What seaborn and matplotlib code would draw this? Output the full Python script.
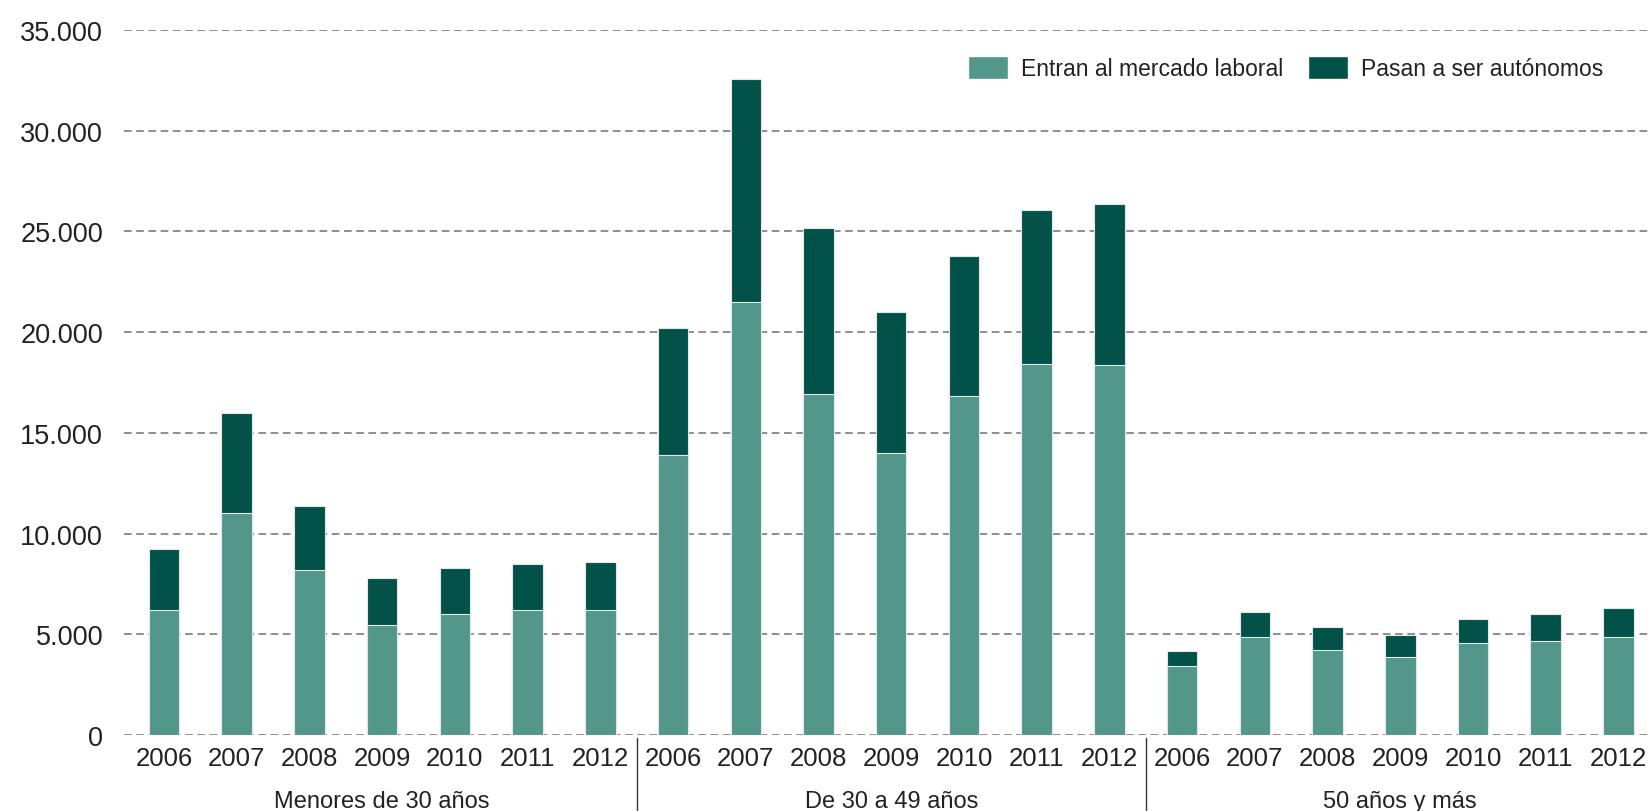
import pandas as pd
import matplotlib
matplotlib.use("Agg")
import matplotlib.pyplot as plt
import matplotlib.transforms as mtransforms
from matplotlib.patches import Patch
from matplotlib.ticker import FuncFormatter
import seaborn as sns

# datos
grupos = ["Menores de 30 años", "De 30 a 49 años", "50 años y más"]
anios = ["2006", "2007", "2008", "2009", "2010", "2011", "2012"]

entran_menores = [6185, 11046, 8204, 5476, 6006, 6185, 6185]
pasan_menores = [3060, 4960, 3174, 2316, 2282, 2282, 2381]

entran_30_49 = [13909, 21483, 16918, 14008, 16835, 18437, 18388]
pasan_30_49 = [6284, 11075, 8235, 7010, 6928, 7624, 7955]

entran_50 = [3442, 4846, 4236, 3889, 4583, 4682, 4880]
pasan_50 = [744, 1275, 1126, 1056, 1190, 1339, 1404]

serie_entran = "Entran al mercado laboral"
serie_pasan = "Pasan a ser autónomos"

color_claro = "#52978a"
color_oscuro = "#02524a"

filas = []
for g, ent, pas in zip(grupos, [entran_menores, entran_30_49, entran_50],
                       [pasan_menores, pasan_30_49, pasan_50]):
    for a, e, p in zip(anios, ent, pas):
        filas.append({"grupo": g, "anio": a, "clave": f"{g} {a}",
                      "entran": e, "pasan": p, "total": e + p})
df = pd.DataFrame(filas)

sns.set_theme(style="white")
plt.rcParams["font.family"] = ["Liberation Sans", "DejaVu Sans"]
narrow = ["Liberation Sans Narrow", "Liberation Sans", "DejaVu Sans"]

fig = plt.figure(figsize=(16.49, 8.12), dpi=100)
ax = fig.add_axes([124 / 1649, 1 - 736 / 812, 1 - 124 / 1649, 705 / 812])

# barras apiladas: total (oscuro) y encima la parte de entrada (claro)
sns.barplot(data=df, x="clave", y="total", color=color_oscuro, saturation=1,
            width=0.42, edgecolor="#dfeae8", linewidth=0.8, ax=ax, zorder=3)
sns.barplot(data=df, x="clave", y="entran", color=color_claro, saturation=1,
            width=0.42, edgecolor="#dfeae8", linewidth=0.8, ax=ax, zorder=3)

ax.set_ylim(0, 35000)
ax.set_xlim(-0.55, 20.42)
ax.set_yticks(range(0, 35001, 5000))
ax.yaxis.set_major_formatter(FuncFormatter(lambda v, _: f"{v:,.0f}".replace(",", ".")))
ax.grid(axis="y", linestyle=(0, (5, 3)), color="#707070", linewidth=1.1, zorder=0)
ax.grid(axis="x", visible=False)
for s in ax.spines.values():
    s.set_visible(False)

ax.set_xticks(range(len(df)))
ax.set_xticklabels(df["anio"], family=narrow, fontsize=18.5, color="#222222")
ax.tick_params(axis="x", length=0, pad=8)
ax.tick_params(axis="y", length=0, pad=15, labelsize=19.5, labelcolor="#222222")
ax.set_xlabel("")
ax.set_ylabel("")

# etiquetas de grupo y separadores
trans = mtransforms.blended_transform_factory(ax.transData, ax.transAxes)
for i, g in enumerate(grupos):
    ax.text(i * 7 + 3, -(802 - 736) / 705, g, transform=trans, ha="center", va="center",
            family=narrow, fontsize=17, color="#222222")
for xs in [6.5, 13.5]:
    ax.plot([xs, xs], [-3 / 705, -80 / 705], transform=trans, color="#333333",
            linewidth=1, clip_on=False)

handles = [Patch(facecolor=color_claro, label=serie_entran),
           Patch(facecolor=color_oscuro, label=serie_pasan)]
fig.legend(handles=handles, loc="upper right", bbox_to_anchor=(1603 / 1649, 1 - 57 / 812),
           ncol=2, frameon=False, prop={"family": narrow, "size": 16.5},
           handlelength=1.75, handleheight=1.2, handletextpad=0.55, columnspacing=1.1,
           borderpad=0, borderaxespad=0, labelcolor="#222222")

fig.savefig("out.png", dpi=100)
